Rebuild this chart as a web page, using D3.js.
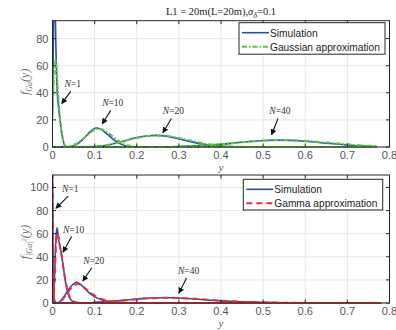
<!DOCTYPE html>
<html>
<head>
<meta charset="utf-8">
<script src="https://cdn.jsdelivr.net/npm/d3@7"></script>
<style>
	body { margin: 0; background: #fff; }
	svg { display: block; }
</style>
</head>
<body>
<div class="svg-container"></div>
<script>
// ---- data ----
const xTicks = [0, 0.1, 0.2, 0.3, 0.4, 0.5, 0.6, 0.7, 0.8];
const topYTicks = [0, 20, 40, 60, 80];
const botYTicks = [0, 20, 40, 60, 80, 100];
const labelsN = ['N=1', 'N=10', 'N=20', 'N=40'];

// top panel: simulation vs Gaussian approximation, one curve per N
const simGa1 = [[0, 25], [0.002, 75], [0.004, 125], [0.006, 110], [0.008, 75], [0.011, 42], [0.014, 30], [0.018, 20], [0.022, 10], [0.026, 4], [0.03, 0.5], [0.035, 0], [0.77, 0]];
const simGa10 = [[0, 0], [0.03, 0], [0.045, 0.5], [0.06, 2.5], [0.075, 6.5], [0.09, 11.5], [0.103, 14], [0.115, 13], [0.13, 9.5], [0.145, 5.5], [0.16, 2.5], [0.175, 0.8], [0.19, 0.2], [0.21, 0], [0.77, 0]];
const simGa20 = [[0, 0], [0.08, 0], [0.11, 0.5], [0.14, 2], [0.17, 4.5], [0.2, 7], [0.225, 8.3], [0.245, 8.6], [0.27, 8], [0.3, 6], [0.33, 3.8], [0.36, 2], [0.39, 0.8], [0.42, 0.3], [0.45, 0], [0.77, 0]];
const simGa40 = [[0, 0], [0.25, 0], [0.3, 0.3], [0.35, 1], [0.4, 2], [0.45, 3.5], [0.5, 4.8], [0.53, 5.1], [0.56, 4.9], [0.6, 4.2], [0.65, 2.8], [0.7, 1.5], [0.74, 0.7], [0.77, 0.3]];
const gaussGa1 = [[0, 22], [0.002, 38], [0.004, 52], [0.006, 61], [0.0075, 65], [0.009, 62], [0.012, 45], [0.015, 32], [0.018, 20], [0.022, 10], [0.026, 4], [0.03, 1], [0.035, 0], [0.77, 0]];
const gaussGa10 = [[0, 0], [0.03, 0.3], [0.05, 1.5], [0.065, 4], [0.08, 8], [0.095, 11.8], [0.11, 13.5], [0.125, 12], [0.14, 8.5], [0.155, 5], [0.17, 2.3], [0.185, 0.8], [0.2, 0.2], [0.22, 0], [0.77, 0]];
const gaussGa20 = [[0, 0], [0.1, 0.3], [0.13, 1.5], [0.16, 3.5], [0.19, 6], [0.22, 7.8], [0.25, 8.4], [0.28, 7.8], [0.31, 6], [0.34, 3.8], [0.37, 2], [0.4, 0.8], [0.43, 0.3], [0.46, 0], [0.77, 0]];
const gaussGa40 = [[0, 0], [0.27, 0], [0.32, 0.5], [0.37, 1.4], [0.42, 2.7], [0.47, 4], [0.52, 4.9], [0.55, 5.1], [0.58, 4.9], [0.62, 4.1], [0.67, 2.8], [0.72, 1.5], [0.77, 0.6]];

// bottom panel: simulation vs Gamma approximation
const simGa2_1 = [[0, 130], [0.001, 60], [0.002, 20], [0.004, 4], [0.008, 0.5], [0.015, 0], [0.78, 0]];
const simGa2_10 = [[0, 0], [0.002, 3], [0.005, 25], [0.008, 55], [0.0105, 65], [0.013, 60], [0.016, 52], [0.02, 45], [0.025, 33], [0.03, 20], [0.035, 11], [0.04, 5], [0.05, 1], [0.06, 0.2], [0.07, 0], [0.78, 0]];
const simGa2_20 = [[0, 0], [0.012, 0], [0.02, 2], [0.03, 7], [0.04, 12.5], [0.05, 16.5], [0.057, 18], [0.065, 16.5], [0.075, 13], [0.085, 9.5], [0.1, 5.5], [0.115, 3], [0.13, 1.5], [0.15, 0.6], [0.17, 0.2], [0.2, 0], [0.78, 0]];
const simGa2_40 = [[0, 0], [0.06, 0], [0.1, 0.5], [0.15, 1.8], [0.2, 3.5], [0.25, 4.6], [0.28, 4.6], [0.32, 3.9], [0.36, 2.8], [0.4, 1.8], [0.45, 1], [0.5, 0.5], [0.55, 0.2], [0.6, 0.1], [0.78, 0]];
const gammaGa2_1 = [[0, 130], [0.001, 55], [0.002, 18], [0.004, 3.5], [0.008, 0.4], [0.015, 0], [0.78, 0]];
const gammaGa2_10 = [[0, 0], [0.002, 2], [0.005, 20], [0.008, 48], [0.011, 60], [0.014, 57], [0.018, 49], [0.022, 40], [0.026, 30], [0.03, 21], [0.035, 12], [0.04, 6], [0.05, 1.5], [0.06, 0.3], [0.07, 0], [0.78, 0]];
const gammaGa2_20 = [[0, 0], [0.01, 0], [0.02, 1.5], [0.03, 6], [0.04, 11], [0.05, 15], [0.06, 16.5], [0.07, 15], [0.08, 12], [0.09, 9], [0.1, 6.5], [0.115, 3.8], [0.13, 2], [0.15, 0.8], [0.17, 0.3], [0.2, 0], [0.78, 0]];
const gammaGa2_40 = [[0, 0], [0.08, 0], [0.12, 0.7], [0.17, 2.2], [0.22, 3.8], [0.27, 4.5], [0.31, 4.2], [0.35, 3.3], [0.4, 2], [0.45, 1.1], [0.5, 0.5], [0.55, 0.2], [0.6, 0.05], [0.78, 0]];

// annotation anchors: [label x, label y, arrow tip x, arrow tip y] in data units
const topNotes = [[0.048, 44, 0.022, 32], [0.143, 30, 0.118, 17], [0.287, 24, 0.262, 10.5], [0.54, 24, 0.52, 9]];
const botNotes = [[0.042, 96, 0.008, 82], [0.05, 61, 0.025, 44], [0.098, 34, 0.072, 19], [0.323, 25, 0.3, 8.5]];

// ---- layout ----
const W = 396;
const H = 330;
const left = 52.5;
const right = 389.5;

const blue = '#2b4fa6';
const green = '#62c43c';
const red = '#ec2d3a';
const axisColor = '#262626';
const tickColor = '#555';
const serif = '"Liberation Serif", "Times New Roman", serif';
const sans = '"Liberation Sans", Arial, sans-serif';

const svg = d3
	.select('.svg-container')
	.append('svg')
	.attr('width', W)
	.attr('height', H)
	.style('background-color', '#fff');

svg
	.append('defs')
	.append('marker')
	.attr('id', 'arrow')
	.attr('viewBox', '0 0 10 10')
	.attr('refX', 9)
	.attr('refY', 5)
	.attr('markerWidth', 6)
	.attr('markerHeight', 6)
	.attr('markerUnits', 'userSpaceOnUse')
	.attr('orient', 'auto')
	.append('path')
	.attr('d', 'M0,0 L10,5 L0,10 Z')
	.attr('fill', '#111');

const x = d3.scaleLinear().domain([0, 0.8]).range([left, right]);

function panel(opts) {
	const y = d3.scaleLinear().domain([0, opts.ymax]).range([opts.bottom, opts.top]);
	const g = svg.append('g');

	// grid
	g.selectAll('.gx')
		.data(xTicks)
		.enter()
		.append('line')
		.attr('x1', d => x(d))
		.attr('x2', d => x(d))
		.attr('y1', opts.top)
		.attr('y2', opts.bottom)
		.attr('stroke', '#e6e6e6')
		.attr('stroke-width', 1);
	g.selectAll('.gy')
		.data(opts.yTicks)
		.enter()
		.append('line')
		.attr('x1', left)
		.attr('x2', right)
		.attr('y1', d => y(d))
		.attr('y2', d => y(d))
		.attr('stroke', '#e6e6e6')
		.attr('stroke-width', 1);

	// curves, clipped to the axes box
	const clipId = 'clip' + opts.id;
	svg
		.select('defs')
		.append('clipPath')
		.attr('id', clipId)
		.append('rect')
		.attr('x', left)
		.attr('y', opts.top)
		.attr('width', right - left)
		.attr('height', opts.bottom - opts.top + 1);

	const line = d3
		.line()
		.x(d => x(d[0]))
		.y(d => y(d[1]))
		.curve(d3.curveMonotoneX);

	const curves = g.append('g').attr('clip-path', `url(#${clipId})`);
	opts.sim.forEach(s => {
		curves
			.append('path')
			.attr('d', line(s))
			.attr('fill', 'none')
			.attr('stroke', blue)
			.attr('stroke-width', 1.6);
	});
	opts.approx.forEach(s => {
		curves
			.append('path')
			.attr('d', line(s))
			.attr('fill', 'none')
			.attr('stroke', opts.approxColor)
			.attr('stroke-width', opts.approxWidth)
			.attr('stroke-dasharray', opts.approxDash);
	});

	// box + ticks
	g.append('rect')
		.attr('x', left)
		.attr('y', opts.top)
		.attr('width', right - left)
		.attr('height', opts.bottom - opts.top)
		.attr('fill', 'none')
		.attr('stroke', axisColor)
		.attr('stroke-width', 1);

	const tl = 3.5;
	xTicks.forEach(t => {
		g.append('line').attr('x1', x(t)).attr('x2', x(t)).attr('y1', opts.bottom).attr('y2', opts.bottom - tl).attr('stroke', axisColor);
		g.append('line').attr('x1', x(t)).attr('x2', x(t)).attr('y1', opts.top).attr('y2', opts.top + tl).attr('stroke', axisColor);
	});
	opts.yTicks.forEach(t => {
		g.append('line').attr('x1', left).attr('x2', left + tl).attr('y1', y(t)).attr('y2', y(t)).attr('stroke', axisColor);
		g.append('line').attr('x1', right).attr('x2', right - tl).attr('y1', y(t)).attr('y2', y(t)).attr('stroke', axisColor);
	});

	g.selectAll('.xl')
		.data(xTicks)
		.enter()
		.append('text')
		.attr('x', d => x(d))
		.attr('y', opts.bottom + 12)
		.attr('text-anchor', 'middle')
		.style('font-family', sans)
		.style('font-size', '11px')
		.attr('fill', tickColor)
		.text(d => d3.format('')(d));
	g.selectAll('.yl')
		.data(opts.yTicks)
		.enter()
		.append('text')
		.attr('x', left - 4)
		.attr('y', d => y(d) + 4)
		.attr('text-anchor', 'end')
		.style('font-family', sans)
		.style('font-size', '11px')
		.attr('fill', tickColor)
		.text(d => d);

	// x label
	g.append('text')
		.attr('x', x(0.4))
		.attr('y', opts.bottom + 23.5)
		.attr('text-anchor', 'middle')
		.style('font-family', serif)
		.style('font-style', 'italic')
		.style('font-size', '11px')
		.attr('fill', tickColor)
		.text('y');

	// y label
	const yl = g
		.append('text')
		.attr('transform', `translate(${opts.ylabelX},${(opts.top + opts.bottom) / 2 + opts.ylabelDy}) rotate(-90)`)
		.attr('text-anchor', 'middle')
		.style('font-family', serif)
		.style('font-style', 'italic')
		.style('font-size', '12px')
		.attr('fill', '#6b6b6b');
	opts.ylabel(yl);

	// annotations
	opts.notes.forEach((n, i) => {
		g.append('text')
			.attr('x', x(n[0]))
			.attr('y', y(n[1]))
			.attr('text-anchor', 'middle')
			.style('font-family', serif)
			.style('font-size', '9.5px')
			.attr('fill', '#333')
			.call(t => {
				t.append('tspan').style('font-style', 'italic').text(labelsN[i].split('=')[0]);
				t.append('tspan').text('=' + labelsN[i].split('=')[1]);
			});
		g.append('line')
			.attr('x1', x(n[0]) - 2)
			.attr('y1', y(n[1]) + 4)
			.attr('x2', x(n[2]))
			.attr('y2', y(n[3]))
			.attr('stroke', '#111')
			.attr('stroke-width', 1.1)
			.attr('marker-end', 'url(#arrow)');
	});

	// legend
	const lg = g.append('g');
	lg.append('rect')
		.attr('x', opts.legend.x)
		.attr('y', opts.legend.y)
		.attr('width', opts.legend.w)
		.attr('height', opts.legend.h)
		.attr('fill', '#fff')
		.attr('stroke', axisColor)
		.attr('stroke-width', 1);
	const entries = [
		{ name: 'Simulation', color: blue, width: 1.6, dash: null },
		{ name: opts.approxName, color: opts.approxColor, width: opts.approxWidth, dash: opts.approxDash }
	];
	entries.forEach((e, i) => {
		const ry = opts.legend.y + 10 + i * 14;
		lg.append('line')
			.attr('x1', opts.legend.x + 3)
			.attr('x2', opts.legend.x + 30)
			.attr('y1', ry)
			.attr('y2', ry)
			.attr('stroke', e.color)
			.attr('stroke-width', e.width)
			.attr('stroke-dasharray', e.dash);
		lg.append('text')
			.attr('x', opts.legend.x + 31)
			.attr('y', ry + 3.8)
			.style('font-family', sans)
			.style('font-size', '10.2px')
			.attr('fill', '#222')
			.text(e.name);
	});
}

// title
svg
	.append('text')
	.attr('x', 221)
	.attr('y', 15)
	.attr('text-anchor', 'middle')
	.style('font-family', serif)
	.style('font-size', '10.5px')
	.attr('fill', '#222')
	.call(t => {
		t.append('tspan').text('L1 = 20m(L=20m),');
		t.append('tspan').style('font-style', 'italic').text('σ');
		t.append('tspan').attr('dy', 3).style('font-size', '8px').style('font-style', 'italic').text('δ');
		t.append('tspan').attr('dy', -3).text('=0.1');
	});

panel({
	id: 'top',
	top: 20.7,
	bottom: 147,
	ymax: 93.2,
	yTicks: topYTicks,
	sim: [simGa1, simGa10, simGa20, simGa40],
	approx: [gaussGa1, gaussGa10, gaussGa20, gaussGa40],
	approxColor: green,
	approxWidth: 2,
	approxDash: '5,2,1.5,2',
	approxName: 'Gaussian approximation',
	notes: topNotes,
	legend: { x: 239, y: 22.7, w: 146, h: 31.5 },
	ylabelX: 29,
	ylabelDy: -2,
	ylabel: t => {
		t.append('tspan').text('f');
		t.append('tspan').attr('dy', 3).style('font-size', '8px').text('Ga');
		t.append('tspan').attr('dy', -3).text('(y)');
	}
});

panel({
	id: 'bot',
	top: 175,
	bottom: 303,
	ymax: 110.8,
	yTicks: botYTicks,
	sim: [simGa2_1, simGa2_10, simGa2_20, simGa2_40],
	approx: [gammaGa2_1, gammaGa2_10, gammaGa2_20, gammaGa2_40],
	approxColor: red,
	approxWidth: 2,
	approxDash: '6,4',
	approxName: 'Gamma approximation',
	notes: botNotes,
	legend: { x: 243.3, y: 179.3, w: 139.4, h: 30.7 },
	ylabelX: 29,
	ylabelDy: 3,
	ylabel: t => {
		t.append('tspan').text('f');
		t.append('tspan').attr('dy', 3).style('font-size', '8px').text('|Ga|');
		t.append('tspan').attr('dy', -6).style('font-size', '7px').text('2');
		t.append('tspan').attr('dy', 3).text('(y)');
	}
});
</script>
</body>
</html>
